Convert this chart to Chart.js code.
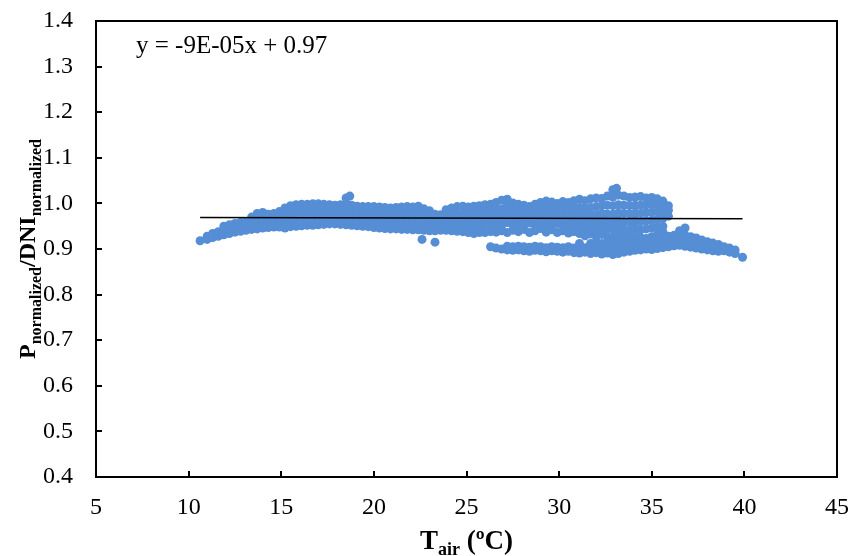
<!DOCTYPE html>
<html>
<head>
<meta charset="utf-8">
<script src="https://cdn.jsdelivr.net/npm/chart.js@4/dist/chart.umd.min.js"></script>
<style>
  html, body { margin: 0; padding: 0; background: #fff; }
</style>
</head>
<body>
<canvas id="chart" width="851" height="556"></canvas>
<script>
// Air temperature (ºC) columns with the normalized ratios read at each one
const coolTail = [
  [10.62, [0.918]],
  [11.0, [0.921, 0.928]],
  [11.3, [0.925, 0.934]],
  [11.6, [0.928, 0.938]],
  [11.9, [0.931, 0.941, 0.950]],
  [12.2, [0.934, 0.944, 0.953]],
  [12.5, [0.937, 0.947, 0.956]],
  [12.8, [0.939, 0.949, 0.958]],
  [13.1, [0.941, 0.951, 0.960]],
  [13.4, [0.943, 0.953, 0.962, 0.970]],
  [13.7, [0.944, 0.955, 0.965, 0.978]],
  [14.0, [0.946, 0.957, 0.967, 0.980]]
];

const mainBand = [
  [14.3, [0.947, 0.957, 0.967, 0.976]],
  [14.6, [0.948, 0.958, 0.968, 0.978]],
  [14.9, [0.948, 0.959, 0.970, 0.982]],
  [15.2, [0.946, 0.958, 0.970, 0.981, 0.990]],
  [15.5, [0.949, 0.960, 0.972, 0.984, 0.995]],
  [15.8, [0.950, 0.961, 0.973, 0.985, 0.997]],
  [16.1, [0.951, 0.962, 0.974, 0.986, 0.998]],
  [16.4, [0.952, 0.963, 0.975, 0.987, 0.998]],
  [16.7, [0.952, 0.964, 0.976, 0.988, 0.999]],
  [17.0, [0.953, 0.964, 0.976, 0.988, 0.999]],
  [17.3, [0.954, 0.965, 0.977, 0.989, 0.998]],
  [17.6, [0.955, 0.966, 0.977, 0.988, 0.997]],
  [17.9, [0.955, 0.966, 0.977, 0.988, 0.996]],
  [18.2, [0.954, 0.965, 0.976, 0.987, 0.997]],
  [18.5, [0.953, 0.964, 0.975, 0.987, 0.998, 1.012]],
  [18.7, [1.016]],
  [18.8, [0.952, 0.963, 0.975, 0.986, 0.996]],
  [19.1, [0.951, 0.962, 0.974, 0.985, 0.994]],
  [19.4, [0.950, 0.961, 0.973, 0.984, 0.993]],
  [19.7, [0.949, 0.960, 0.972, 0.983, 0.993]],
  [20.0, [0.947, 0.958, 0.970, 0.982, 0.993]],
  [20.3, [0.946, 0.957, 0.969, 0.981, 0.992]],
  [20.6, [0.945, 0.956, 0.968, 0.980, 0.991]],
  [20.9, [0.944, 0.955, 0.967, 0.979, 0.990]],
  [21.2, [0.944, 0.955, 0.967, 0.979, 0.991]],
  [21.5, [0.943, 0.955, 0.967, 0.979, 0.992]],
  [21.8, [0.943, 0.954, 0.966, 0.979, 0.993]],
  [22.1, [0.942, 0.954, 0.966, 0.979, 0.992]],
  [22.4, [0.942, 0.953, 0.965, 0.978, 0.994]],
  [22.6, [0.921]],
  [22.7, [0.941, 0.953, 0.965, 0.977, 0.988]],
  [23.0, [0.940, 0.952, 0.964, 0.976, 0.984]],
  [23.3, [0.915, 0.940, 0.952, 0.964, 0.976]],
  [23.6, [0.941, 0.952, 0.964, 0.975]],
  [23.9, [0.941, 0.952, 0.964, 0.976, 0.986]],
  [24.2, [0.940, 0.951, 0.963, 0.976, 0.990]],
  [24.5, [0.939, 0.951, 0.963, 0.977, 0.993]],
  [24.8, [0.938, 0.950, 0.963, 0.977, 0.994]]
];

const warmBand = [
  [25.1, [0.936, 0.947, 0.958, 0.969, 0.980, 0.992]],
  [25.4, [0.934, 0.946, 0.958, 0.970, 0.981, 0.994]],
  [25.7, [0.936, 0.948, 0.959, 0.970, 0.982, 0.995]],
  [26.0, [0.936, 0.947, 0.960, 0.971, 0.983, 0.997]],
  [26.3, [0.938, 0.951, 0.963, 0.975, 0.985, 0.998]],
  [26.6, [0.937, 0.950, 0.961, 0.973, 0.986, 1.002]],
  [26.9, [0.940, 0.952, 0.964, 0.976, 0.987, 1.007]],
  [27.2, [0.936, 0.958, 0.970, 0.983, 0.996, 1.009]],
  [27.5, [0.941, 0.953, 0.965, 0.977, 0.989, 1.001]],
  [27.8, [0.938, 0.950, 0.962, 0.975, 0.987, 0.998]],
  [28.1, [0.943, 0.955, 0.967, 0.979, 0.990, 0.996]],
  [28.4, [0.936, 0.957, 0.969, 0.981, 0.993]],
  [28.7, [0.940, 0.952, 0.964, 0.976, 0.988, 0.998]],
  [29.0, [0.945, 0.957, 0.969, 0.980, 0.991, 1.002]],
  [29.3, [0.937, 0.950, 0.962, 0.974, 0.988, 1.005]],
  [29.6, [0.942, 0.954, 0.966, 0.978, 0.990, 1.003]],
  [29.9, [0.936, 0.956, 0.970, 0.984, 1.000]],
  [30.2, [0.940, 0.952, 0.964, 0.976, 0.989, 1.004]],
  [30.5, [0.935, 0.947, 0.960, 0.973, 0.986, 1.002]],
  [30.8, [0.938, 0.950, 0.962, 0.975, 0.990, 1.006]],
  [31.1, [0.934, 0.948, 0.962, 0.976, 0.991, 1.009]],
  [31.4, [0.929, 0.944, 0.958, 0.973, 0.989, 1.006]],
  [31.7, [0.933, 0.946, 0.961, 0.975, 0.991, 1.010]],
  [32.0, [0.928, 0.943, 0.959, 0.975, 0.993, 1.012]],
  [32.3, [0.932, 0.947, 0.963, 0.978, 0.995, 1.011]],
  [32.6, [0.927, 0.944, 0.960, 0.977, 0.996, 1.016]],
  [32.9, [0.924, 0.942, 0.958, 0.976, 0.995, 1.014, 1.030]],
  [33.1, [1.033]],
  [33.2, [0.929, 0.946, 0.962, 0.979, 0.997, 1.018]],
  [33.5, [0.926, 0.943, 0.960, 0.978, 0.996, 1.016]],
  [33.8, [0.922, 0.940, 0.958, 0.977, 0.995, 1.013]],
  [34.1, [0.928, 0.945, 0.962, 0.979, 0.996, 1.014]],
  [34.4, [0.925, 0.942, 0.960, 0.978, 0.996, 1.015]],
  [34.7, [0.923, 0.944, 0.962, 0.980, 0.997, 1.012]],
  [35.0, [0.927, 0.946, 0.963, 0.981, 0.998, 1.013]],
  [35.3, [0.931, 0.948, 0.965, 0.982, 0.998, 1.010]],
  [35.6, [0.950, 0.967, 0.983, 0.996, 1.005]],
  [35.9, [0.972, 0.985, 0.995]]
];

const lowBranch = [
  [26.3, [0.905]],
  [26.6, [0.902]],
  [26.9, [0.900]],
  [27.2, [0.898, 0.906]],
  [27.5, [0.897, 0.905]],
  [27.8, [0.898, 0.906]],
  [28.1, [0.896, 0.905]],
  [28.4, [0.895, 0.904]],
  [28.7, [0.897, 0.906]],
  [29.0, [0.896, 0.905]],
  [29.3, [0.894, 0.903]],
  [29.6, [0.896, 0.905]],
  [29.9, [0.895, 0.904]],
  [30.2, [0.893, 0.903]],
  [30.5, [0.895, 0.905]],
  [30.8, [0.892, 0.902]],
  [31.1, [0.891, 0.901, 0.912]],
  [31.4, [0.893, 0.903]],
  [31.7, [0.890, 0.901, 0.912]],
  [32.0, [0.892, 0.904, 0.916]],
  [32.3, [0.889, 0.900, 0.912]],
  [32.6, [0.891, 0.903, 0.915]],
  [32.9, [0.888, 0.899, 0.911]],
  [33.2, [0.890, 0.902, 0.914]],
  [33.5, [0.893, 0.905, 0.917]],
  [33.8, [0.895, 0.907, 0.913]],
  [34.1, [0.897, 0.909, 0.920]],
  [34.4, [0.898, 0.910]],
  [34.7, [0.900, 0.911, 0.921]],
  [35.0, [0.899, 0.910]],
  [35.3, [0.901, 0.913, 0.924]],
  [35.6, [0.903, 0.914, 0.926, 0.938]]
];

const hotTail = [
  [35.9, [0.905, 0.916, 0.928]],
  [36.2, [0.907, 0.918, 0.930]],
  [36.5, [0.908, 0.920, 0.932, 0.940]],
  [36.8, [0.906, 0.918, 0.930, 0.946]],
  [37.1, [0.904, 0.915, 0.927]],
  [37.4, [0.902, 0.913, 0.924]],
  [37.7, [0.900, 0.911, 0.920]],
  [38.0, [0.898, 0.908, 0.916]],
  [38.3, [0.896, 0.906, 0.913]],
  [38.6, [0.895, 0.904, 0.910]],
  [38.9, [0.896, 0.905]],
  [39.2, [0.893, 0.902]],
  [39.5, [0.890, 0.898]],
  [39.9, [0.882]]
];

// Linear trend shown on the chart
const slope = -9e-5;
const intercept = 0.97;
const equationText = 'y = -9E-05x + 0.97';

const xTicks = [5, 10, 15, 20, 25, 30, 35, 40, 45];
const yTicks = [0.4, 0.5, 0.6, 0.7, 0.8, 0.9, 1.0, 1.1, 1.2, 1.3, 1.4];

const serif = '"Liberation Serif", "Times New Roman", serif';

function toPoints(cols) {
  return cols.flatMap(([t, vals]) => vals.map(v => ({ x: t, y: v })));
}

const allPoints = [coolTail, mainBand, warmBand, lowBranch, hotTail].flatMap(toPoints);
const xMin = Math.min(...allPoints.map(p => p.x));
const xMax = Math.max(...allPoints.map(p => p.x));
const trend = [
  { x: xMin, y: intercept + slope * xMin },
  { x: xMax, y: intercept + slope * xMax }
];

// Draws the frame, inward ticks, titles with subscripts and the equation
const decorations = {
  id: 'decorations',
  afterDraw(chart) {
    const { ctx, chartArea: a, scales } = chart;
    ctx.save();
    ctx.strokeStyle = '#000';
    ctx.lineWidth = 2;
    ctx.strokeRect(a.left, a.top, a.right - a.left, a.bottom - a.top);

    ctx.beginPath();
    xTicks.forEach(v => {
      const px = Math.round(scales.x.getPixelForValue(v));
      ctx.moveTo(px, a.bottom);
      ctx.lineTo(px, a.bottom - 6);
    });
    yTicks.forEach(v => {
      const py = Math.round(scales.y.getPixelForValue(v));
      ctx.moveTo(a.left, py);
      ctx.lineTo(a.left + 6, py);
    });
    ctx.stroke();

    ctx.fillStyle = '#000';
    ctx.textBaseline = 'alphabetic';
    ctx.textAlign = 'left';
    ctx.font = '25px ' + serif;
    ctx.fillText(equationText, a.left + 40, 53);

    // Titles: pieces of [text, isSubscript]
    function drawRich(parts, cx, baseY, bigPx, smallPx, drop) {
      const big = 'bold ' + bigPx + 'px ' + serif;
      const small = 'bold ' + smallPx + 'px ' + serif;
      let w = 0;
      parts.forEach(([s, sub]) => { ctx.font = sub ? small : big; w += ctx.measureText(s).width; });
      let x = cx - w / 2;
      parts.forEach(([s, sub]) => {
        ctx.font = sub ? small : big;
        ctx.fillText(s, x, baseY + (sub ? drop : 0));
        x += ctx.measureText(s).width;
      });
    }

    drawRich([['T', false], ['air', true], [' (ºC)', false]], (a.left + a.right) / 2, 549, 27, 18, 6);

    ctx.translate(35, (a.top + a.bottom) / 2);
    ctx.rotate(-Math.PI / 2);
    drawRich([['P', false], ['normalized', true], ['/DNI', false], ['normalized', true]], 0, 0, 24, 16, 6);
    ctx.restore();
  }
};

new Chart(document.getElementById('chart'), {
  type: 'scatter',
  data: {
    datasets: [
      {
        type: 'line',
        data: trend,
        borderColor: '#000',
        borderWidth: 1.5,
        pointRadius: 0,
        fill: false,
        order: 0
      },
      {
        data: allPoints,
        backgroundColor: '#558ED5',
        borderWidth: 0,
        pointRadius: 4.5,
        order: 1
      }
    ]
  },
  options: {
    responsive: false,
    animation: false,
    layout: { padding: { top: 21, right: 14, left: 0, bottom: 0 } },
    plugins: {
      legend: { display: false },
      tooltip: { enabled: false }
    },
    scales: {
      x: {
        type: 'linear',
        min: 5,
        max: 45,
        grid: { display: false, drawTicks: false },
        border: { display: false },
        ticks: {
          stepSize: 5,
          padding: 16,
          color: '#000',
          font: { family: serif, size: 24 }
        },
        afterFit(scale) {
          scale.height = 79;
          scale.paddingLeft = 0;
          scale.paddingRight = 0;
        }
      },
      y: {
        min: 0.4,
        max: 1.4,
        grid: { display: false, drawTicks: false },
        border: { display: false },
        ticks: {
          stepSize: 0.1,
          padding: 23,
          color: '#000',
          font: { family: serif, size: 24 },
          callback: v => v.toFixed(1)
        },
        afterFit(scale) {
          scale.width = 96;
          scale.paddingTop = 0;
          scale.paddingBottom = 0;
        }
      }
    }
  },
  plugins: [decorations]
});
</script>
</body>
</html>
